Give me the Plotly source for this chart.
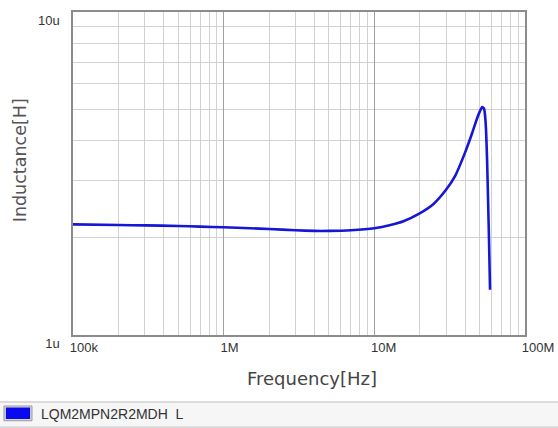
import plotly.graph_objects as go

# frequency (Hz) and inductance (uH)
freq_hz = [100e3, 200e3, 300e3, 500e3, 700e3, 1e6, 1.5e6, 2e6, 3e6, 4e6, 5e6,
           7e6, 10e6, 12.8e6, 15.6e6, 20e6, 24.6e6, 30e6, 34.4e6, 40e6,
           44.6e6, 48.1e6, 50.4e6, 52e6, 53.5e6, 54.5e6, 55.2e6, 56e6, 56.9e6,
           57.8e6, 58.6e6]
induct_uh = [2.20, 2.19, 2.185, 2.175, 2.165, 2.155, 2.14, 2.13, 2.11, 2.10, 2.10,
             2.11, 2.14, 2.19, 2.25, 2.38, 2.54, 2.82, 3.11, 3.67,
             4.22, 4.69, 4.95, 5.08, 5.02, 4.70, 4.25, 3.50, 2.60,
             1.90, 1.38]
induct_h = [v * 1e-6 for v in induct_uh]

part_name = "LQM2MPN2R2MDH  L"

FONT = "Liberation Sans, Arial, sans-serif"
TITLE_FONT = "DejaVu Sans, sans-serif"
MAJOR = "#a0a0a0"
MINOR = "#d2d2d2"

fig = go.Figure()
fig.add_trace(go.Scatter(
    x=freq_hz, y=induct_h, mode="lines",
    line=dict(color="#1616d6", width=2.6, shape="spline", smoothing=0.5),
    showlegend=False, hoverinfo="x+y"
))

axis_common = dict(
    type="log", dtick=1, exponentformat="SI", ticks="", automargin=False,
    showgrid=True, gridcolor=MAJOR, gridwidth=1.3,
    showline=True, linecolor="#8c8c8c", linewidth=1.5, mirror=True,
    zeroline=False, tickfont=dict(family=FONT, size=13, color="#333333"),
    minor=dict(dtick="D1", showgrid=True, gridcolor=MINOR, gridwidth=1.2, ticks=""),
)

fig.update_xaxes(range=[5, 8], ticklabelposition="outside right",
                 ticklabelshift=-4, **axis_common)
fig.update_yaxes(range=[-6, -5], ticklabelposition="outside bottom",
                 ticklabelshift=-1, ticklabelstandoff=9,
                 labelalias={"1µ": "1u", "10µ": "10u", "1μ": "1u", "10μ": "10u"},
                 **axis_common)

# titles
fig.add_annotation(text="Frequency[Hz]", xref="paper", yref="paper",
                   x=0.529, y=-0.136, xanchor="center", yanchor="middle",
                   showarrow=False,
                   font=dict(family=TITLE_FONT, size=18, color="#444444"))
fig.add_annotation(text="Inductance[H]", xref="paper", yref="paper",
                   x=-0.118, y=0.54, xanchor="center", yanchor="middle",
                   textangle=-90, showarrow=False,
                   font=dict(family=TITLE_FONT, size=17.5, color="#555555"))

# legend strip at the bottom
fig.add_shape(type="rect", xref="paper", yref="paper",
              x0=-0.17, x1=1.08, y0=-0.285, y1=-0.2074,
              fillcolor="#f6f6f6", line=dict(color="#bdbdbd", width=1), layer="below")
fig.add_shape(type="rect", xref="paper", yref="paper",
              x0=-0.1527, x1=-0.0907, y0=-0.2655, y1=-0.2198,
              fillcolor="#d8d8d8", line=dict(color="#9a9a9a", width=1))
fig.add_shape(type="rect", xref="paper", yref="paper",
              x0=-0.1485, x1=-0.0949, y0=-0.2600, y1=-0.2245,
              fillcolor="#0a0af0", line=dict(width=0))
fig.add_shape(type="path", xref="paper", yref="paper",
              path="M -0.1005 -0.2545 L -0.0960 -0.2545 L -0.0982 -0.2590 Z",
              fillcolor="#202020", line=dict(width=0))
fig.add_annotation(text=part_name, xref="paper", yref="paper",
                   x=-0.0745, y=-0.2445, xanchor="left", yanchor="middle",
                   showarrow=False,
                   font=dict(family=FONT, size=14, color="#333333"))

fig.update_layout(
    width=558, height=428,
    margin=dict(l=73, r=33, t=12, b=93),
    paper_bgcolor="white", plot_bgcolor="white",
    font=dict(family=FONT),
)

fig.write_html("out.html", config={"displayModeBar": False},
               post_script="document.body.style.margin='0';")
